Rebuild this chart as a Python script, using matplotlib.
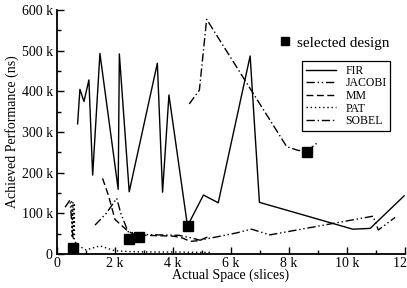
import numpy as np
import matplotlib
matplotlib.use("Agg")
import matplotlib.pyplot as plt
from matplotlib.ticker import MultipleLocator, FuncFormatter
from matplotlib.lines import Line2D

plt.rcParams['font.family'] = ['Liberation Serif', 'DejaVu Serif']

# data (x in k slices, y in k ns)
fir_x = [0.71, 0.79, 0.93, 1.10, 1.23, 1.48, 2.11, 2.15, 2.49, 3.46, 3.64, 3.86, 4.50, 5.05, 5.56, 6.66, 6.98, 10.2, 10.8, 11.97]
fir_y = [320, 405, 375, 428, 194, 493, 159, 492, 153, 469, 152, 391, 69, 145, 126, 487, 127, 61, 63, 143]

jacobi_x = [0.28, 0.45, 0.55, np.nan, 1.31, 1.70, 2.06, 2.20, 2.45, 2.90, 3.50, 4.20, 4.60, 4.93, 5.50, 6.20, 6.71, 7.34, 10.9, 11.08, 11.66]
jacobi_y = [115, 133, 40, np.nan, 71, 100, 137, 100, 55, 48, 47, 46, 40, 34, 42, 52, 61, 47, 93, 59, 90]

mm_x = [1.57, 1.77, 2.00, 2.40, 2.65, 3.00, 3.50, 4.00, 4.30, 4.60, 4.90, 5.20]
mm_y = [186, 145, 85, 59, 48, 46, 45, 44, 40, 31, 33, 42]

pat_x = [0.50, 0.52, 0.55, 0.57, 0.60, 0.60, 0.62, 0.75, 1.00, 1.48, 2.00, 2.50, 3.00, 4.00, 5.00, 5.33]
pat_y = [130, 40, 128, 38, 125, 35, 30, 20, 10, 20, 8, 6, 5, 5, 4, 4]

sobel_x = [4.56, 4.91, 5.16, 7.92, 8.30, 8.61, 8.95]
sobel_y = [369, 403, 577, 264, 255, 252, 272]

sel_x = [0.54, 2.49, 2.84, 4.50, 8.61]
sel_y = [14, 36, 43, 68, 252]

fig = plt.figure(figsize=(4.07, 2.88), dpi=100)
ax = fig.add_axes([57/407, 1 - 254/288, 348/407, 244/288])

lw = 1.0
ax.plot(fir_x, fir_y, color='black', lw=lw, linestyle='-', label='FIR')
ax.plot(jacobi_x, jacobi_y, color='black', lw=lw, linestyle=(0, (6, 2, 1, 2, 1, 2)), label='JACOBI')
ax.plot(mm_x, mm_y, color='black', lw=lw, linestyle=(0, (5, 2.5)), label='MM')
ax.plot(pat_x, pat_y, color='black', lw=lw, linestyle=(0, (1, 2)), label='PAT')
ax.plot(sobel_x, sobel_y, color='black', lw=lw, linestyle=(0, (6, 2, 1, 2)), label='SOBEL')
ax.plot(sel_x, sel_y, linestyle='none', marker='s', markersize=7, color='black')

ax.set_xlim(0, 12)
ax.set_ylim(0, 600)
for s in ['top', 'right']:
    ax.spines[s].set_visible(False)
for s in ['left', 'bottom']:
    ax.spines[s].set_linewidth(1.3)

ax.xaxis.set_major_locator(MultipleLocator(2))
ax.xaxis.set_minor_locator(MultipleLocator(1))
ax.yaxis.set_major_locator(MultipleLocator(100))
ax.yaxis.set_minor_locator(MultipleLocator(50))
fmt = FuncFormatter(lambda v, p: '0' if v == 0 else f'{int(round(v))} k')
ax.xaxis.set_major_formatter(fmt)
ax.yaxis.set_major_formatter(fmt)
ax.tick_params(which='both', direction='in', labelsize=10, width=1)
ax.tick_params(which='major', length=5)
ax.tick_params(which='minor', length=3)
ax.tick_params(axis='x', pad=2)
ax.tick_params(axis='y', pad=3)

ax.set_xlabel('Actual Space (slices)', fontsize=10, labelpad=-1)
ax.set_ylabel('Achieved Performance (ns)', fontsize=10, labelpad=2)

leg = ax.legend(loc='upper left', bbox_to_anchor=(0.704, 0.79), fontsize=8.5,
                frameon=True, fancybox=False, edgecolor='black', framealpha=1,
                handlelength=2.6, handletextpad=0.8, borderpad=0.3, labelspacing=0.05,
                borderaxespad=0)
leg.get_frame().set_linewidth(0.9)
ax.add_artist(leg)

sel_handle = Line2D([], [], linestyle='none', marker='s', markersize=6, color='black')
leg2 = ax.legend([sel_handle], ['selected design'], loc='center left',
                 bbox_to_anchor=(0.62, 0.865), fontsize=11, frameon=False,
                 handlelength=0.8, handletextpad=0.4, borderaxespad=0)

fig.savefig('out.png', dpi=100)
